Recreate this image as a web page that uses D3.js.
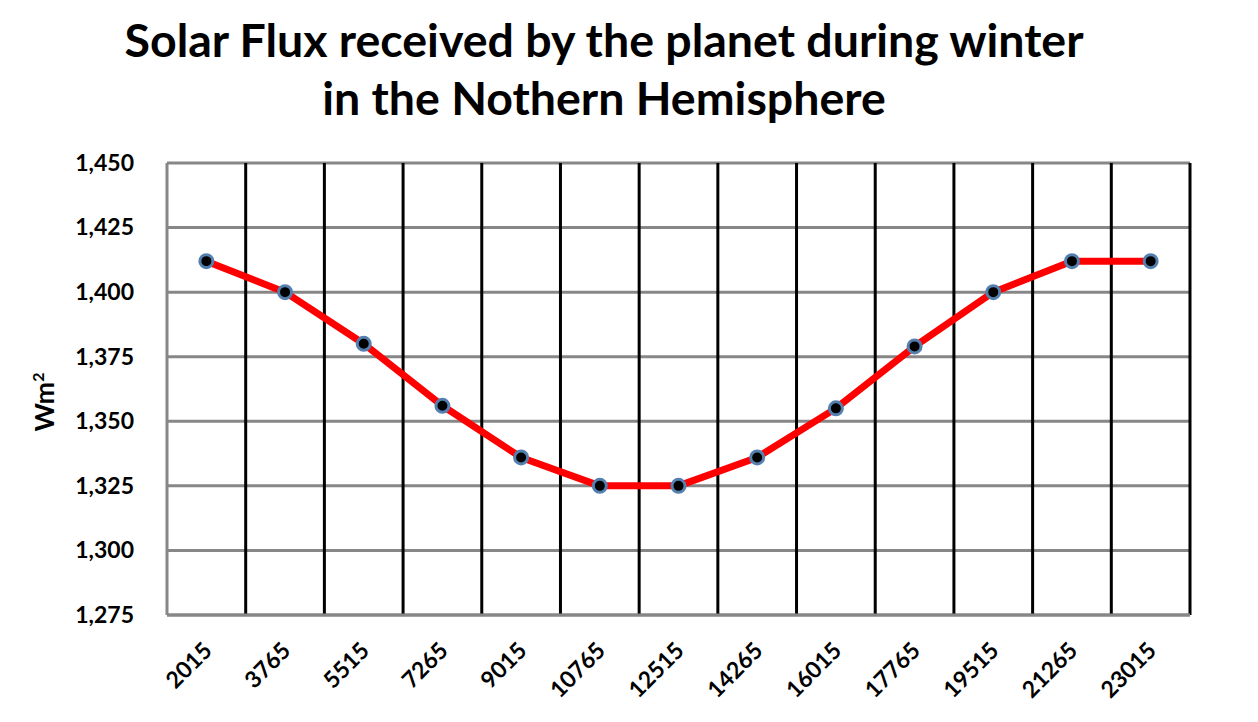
<!DOCTYPE html>
<html>
<head>
<meta charset="utf-8">
<script src="https://cdn.jsdelivr.net/npm/d3@7"></script>
<style>
    body { margin: 0; background: #ffffff; }
    svg { display: block; font-family: Lato, "Open Sans", sans-serif; }
</style>
</head>
<body>
<svg id="chart" width="1258" height="722"></svg>
<script>
var years = ["2015", "3765", "5515", "7265", "9015", "10765", "12515", "14265", "16015", "17765", "19515", "21265", "23015"];
var flux = [1412, 1400, 1380, 1356, 1336, 1325, 1325, 1336, 1355, 1379, 1400, 1412, 1412];
var yTicks = [1275, 1300, 1325, 1350, 1375, 1400, 1425, 1450];
var titleLines = ["Solar Flux received by the planet during winter", "in the Nothern Hemisphere"];

var svg = d3.select("#chart"),
    width = +svg.attr("width"),
    height = +svg.attr("height");

var margin = {left: 167, right: 68, top: 163, bottom: 107};

var x = d3.scaleBand()
    .domain(years)
    .range([margin.left, width - margin.right]);

var y = d3.scaleLinear()
    .domain([1275, 1450])
    .range([height - margin.bottom, margin.top]);

// title
svg.append("g").selectAll("text")
    .data(titleLines)
    .enter().append("text")
    .attr("x", 604)
    .attr("y", function(d, i) { return 57 + i * 58; })
    .attr("text-anchor", "middle")
    .attr("font-size", 46.5)
    .attr("font-weight", "bold")
    .attr("fill", "#000")
    .text(function(d) { return d; });

// horizontal grid (gray)
svg.append("g")
    .selectAll("line")
    .data(yTicks)
    .enter().append("line")
    .attr("x1", margin.left)
    .attr("x2", width - margin.right)
    .attr("y1", function(d) { return y(d); })
    .attr("y2", function(d) { return y(d); })
    .attr("stroke", "#878787")
    .attr("stroke-width", 3);

// vertical category borders (black)
svg.append("g")
    .selectAll("line")
    .data(years)
    .enter().append("line")
    .attr("x1", function(d) { return x(d) + x.bandwidth(); })
    .attr("x2", function(d) { return x(d) + x.bandwidth(); })
    .attr("y1", y(1450))
    .attr("y2", y(1275))
    .attr("stroke", "#000")
    .attr("stroke-width", 3);

// left axis line (gray)
svg.append("line")
    .attr("x1", margin.left).attr("x2", margin.left)
    .attr("y1", y(1450)).attr("y2", y(1275))
    .attr("stroke", "#878787")
    .attr("stroke-width", 3);

// bottom axis redrawn on top
svg.append("line")
    .attr("x1", margin.left).attr("x2", width - margin.right)
    .attr("y1", y(1275)).attr("y2", y(1275))
    .attr("stroke", "#878787")
    .attr("stroke-width", 3);

// y axis labels
var yAxis = d3.axisLeft(y)
    .tickValues(yTicks)
    .tickFormat(d3.format(","))
    .tickSize(0)
    .tickPadding(33);
var yg = svg.append("g")
    .attr("transform", "translate(" + margin.left + ",0)")
    .call(yAxis);
yg.select(".domain").remove();
yg.selectAll("text")
    .attr("font-family", "Lato, sans-serif")
    .attr("font-size", 23)
    .attr("font-weight", "bold")
    .attr("fill", "#000");

// x axis labels
var xAxis = d3.axisBottom(x).tickSize(0).tickPadding(0);
var xg = svg.append("g")
    .attr("transform", "translate(0," + y(1275) + ")")
    .call(xAxis);
xg.select(".domain").remove();
xg.selectAll("text")
    .attr("font-family", "Lato, sans-serif")
    .attr("font-size", 23)
    .attr("font-weight", "bold")
    .attr("fill", "#000")
    .attr("text-anchor", "end")
    .attr("y", 0)
    .attr("dy", 0)
    .attr("transform", "translate(7,37) rotate(-45)");

// y axis title
svg.append("text")
    .attr("transform", "translate(54,402) rotate(-90)")
    .attr("text-anchor", "middle")
    .attr("font-size", 27)
    .attr("font-weight", "bold")
    .attr("fill", "#000")
    .html('Wm<tspan dy="-10" font-size="16">2</tspan>');

// line
var line = d3.line()
    .x(function(d, i) { return x(years[i]) + x.bandwidth() / 2; })
    .y(function(d) { return y(d); });

svg.append("path")
    .datum(flux)
    .attr("d", line)
    .attr("fill", "none")
    .attr("stroke", "#ff0000")
    .attr("stroke-width", 7)
    .attr("stroke-linejoin", "round");

// markers
svg.append("g")
    .selectAll("circle")
    .data(flux)
    .enter().append("circle")
    .attr("cx", function(d, i) { return x(years[i]) + x.bandwidth() / 2; })
    .attr("cy", function(d) { return y(d); })
    .attr("r", 6.5)
    .attr("fill", "#000")
    .attr("stroke", "#5480b0")
    .attr("stroke-width", 3);
</script>
</body>
</html>
